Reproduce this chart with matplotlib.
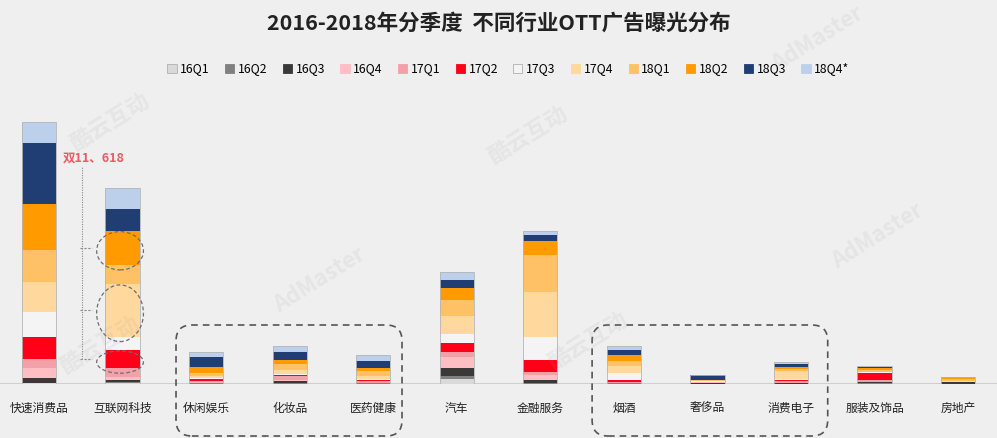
import numpy as np
import matplotlib
matplotlib.use("Agg")
import matplotlib.pyplot as plt
from matplotlib.patches import Patch, Ellipse, FancyBboxPatch

plt.rcParams['font.family'] = ['Noto Sans CJK SC', 'DejaVu Sans']

# ---- data (exposure, arbitrary units)
industries = ["快速消费品", "互联网科技", "休闲娱乐", "化妆品", "医药健康", "汽车",
              "金融服务", "烟酒", "奢侈品", "消费电子", "服装及饰品", "房地产"]
quarters = ["16Q1", "16Q2", "16Q3", "16Q4", "17Q1", "17Q2",
            "17Q3", "17Q4", "18Q1", "18Q2", "18Q3", "18Q4*"]

q16_1 = [1.0, 1.0, 0.3, 0.3, 0.3, 4.7, 0.3, 0.3, 0.2, 0.2, 0.3, 0.2]
q16_2 = [0.5, 1.0, 0.3, 0.3, 0.3, 3.3, 0.3, 0.3, 0.2, 0.2, 1.0, 0.2]
q16_3 = [5.0, 2.0, 0.5, 2.0, 0.3, 7.7, 3.0, 0.3, 0.8, 0.3, 0.3, 1.3]
q16_4 = [10.0, 3.5, 0.5, 1.0, 0.5, 11.0, 5.0, 0.5, 0.5, 0.3, 0.7, 0.2]
q17_1 = [8.4, 8.3, 1.0, 4.0, 1.5, 5.6, 3.4, 1.0, 0.5, 2.0, 1.3, 0.2]
q17_2 = [22.0, 18.3, 2.0, 1.0, 1.0, 8.4, 11.6, 2.0, 0.3, 1.3, 7.7, 0.2]
q17_3 = [25.0, 13.3, 1.0, 1.0, 1.0, 9.0, 23.4, 6.7, 0.5, 0.7, 0.3, 0.2]
q17_4 = [30.6, 52.7, 2.0, 4.7, 3.3, 18.3, 45.0, 6.6, 0.5, 7.6, 0.7, 0.3]
q18_1 = [32.0, 19.0, 3.5, 6.0, 5.0, 16.0, 37.3, 5.7, 0.5, 2.4, 1.6, 2.2]
q18_2 = [46.0, 34.3, 5.5, 4.0, 3.3, 11.7, 13.3, 5.3, 0.3, 1.6, 1.7, 2.0]
q18_3 = [61.0, 21.3, 10.0, 8.0, 6.7, 8.3, 6.7, 5.7, 4.5, 3.4, 1.7, 0.3]
q18_4 = [20.6, 21.0, 5.0, 5.3, 5.7, 7.7, 3.3, 3.3, 0.5, 2.0, 0.5, 0.2]

series = [q16_1, q16_2, q16_3, q16_4, q17_1, q17_2,
          q17_3, q17_4, q18_1, q18_2, q18_3, q18_4]
colors = ["#d9d9d9", "#808080", "#3b3838", "#ffbdc4", "#f4a0a8", "#ff0018",
          "#f4f4f4", "#ffd89e", "#ffc166", "#ff9a00", "#203e73", "#bdd0eb"]

bg = "#efefef"
x = np.arange(len(industries))
px_per_x = 83.55  # screen pixels per category slot

fig = plt.figure(figsize=(9.97, 4.38), dpi=100, facecolor=bg)
ax = fig.add_axes([0, 54 / 438, 1, 280 / 438])
ax.set_facecolor(bg)

bottom = np.zeros(len(industries))
seg_bottoms = []
for vals, c in zip(series, colors):
    seg_bottoms.append(bottom.copy())
    ax.bar(x, vals, 0.41, bottom=bottom, color=c, edgecolor="none", zorder=3)
    bottom = bottom + np.array(vals)
# thin outline round each stacked bar
ax.bar(x, bottom, 0.41, fill=False, edgecolor="#b5b5b5", linewidth=0.6, zorder=4)

ax.set_xlim(-39 / px_per_x, (997 - 39) / px_per_x)
ax.set_ylim(0, 280)
ax.axhline(0, color="#cfcfcf", linewidth=2.2, zorder=2)
ax.set_xticks(x)
ax.set_xticklabels(industries, fontsize=8.5, color="#222222")
ax.tick_params(axis="x", length=0, pad=13)
ax.set_yticks([])
for s in ax.spines.values():
    s.set_visible(False)

# ---- annotations around 互联网科技
ann = dict(color="#6e6e6e", linewidth=0.9, linestyle=(0, (3, 2)), zorder=5)
for q in (9, 7, 5):
    y0 = seg_bottoms[q][1]
    h = series[q][1]
    ax.add_patch(Ellipse((0.97, y0 + h / 2 - 3), 0.56, h + 4, fill=False, clip_on=False, **ann))
    ax.plot([0.49, 0.634], [y0 + h / 2, y0 + h / 2], color="#8a8a8a",
            linewidth=0.8, linestyle=(0, (2, 1.5)), zorder=5)
ax.plot([0.515, 0.515], [seg_bottoms[5][1] + series[5][1] / 2, 217],
        color="#8a8a8a", linewidth=0.8, linestyle=(0, (1, 1.2)), zorder=5)
ax.text(0.66, 226, "双11、618", color="#ec5a66", fontsize=9, fontweight="bold",
        ha="center", va="center")

# ---- dashed rounded group boxes
for left, right in [(2 - 0.36, 4 + 0.345), (7 - 0.38, 9 + 0.44)]:
    box = FancyBboxPatch((left, -52), right - left, 111,
                         boxstyle="round,pad=0,rounding_size=0.19",
                         mutation_aspect=px_per_x, fill=False,
                         edgecolor="#555555", linewidth=1.2,
                         linestyle=(0, (4, 3)), clip_on=False, zorder=6)
    ax.add_patch(box)

# ---- faint watermarks
wm = dict(color="#9a9a9a", alpha=0.12, rotation=32, ha="center", va="center",
          fontweight="bold", zorder=1)
for fx, fy in [(0.82, 0.91), (0.32, 0.36), (0.88, 0.46)]:
    fig.text(fx, fy, "AdMaster", fontsize=16, transform=fig.transFigure, **wm)
for fx, fy in [(0.11, 0.72), (0.10, 0.21), (0.53, 0.69), (0.59, 0.22)]:
    fig.text(fx, fy, "酷云互动", fontsize=16, transform=fig.transFigure, **wm)

# ---- title & legend
fig.text(0.5, 1 - 23 / 438, "2016-2018年分季度  不同行业OTT广告曝光分布",
         ha="center", va="center", fontsize=15.5, fontweight="bold", color="#222222")
handles = [Patch(facecolor=c, edgecolor="#b0b0b0" if c in ("#f4f4f4", "#d9d9d9") else c,
                 linewidth=0.6) for c in colors]
fig.legend(handles, quarters, ncol=12, loc="center", bbox_to_anchor=(0.51, 1 - 69 / 438),
           frameon=False, fontsize=8.8, handlelength=0.75, handleheight=0.75,
           handletextpad=0.3, columnspacing=1.25)

fig.savefig("out.png", dpi=100, facecolor=bg)
